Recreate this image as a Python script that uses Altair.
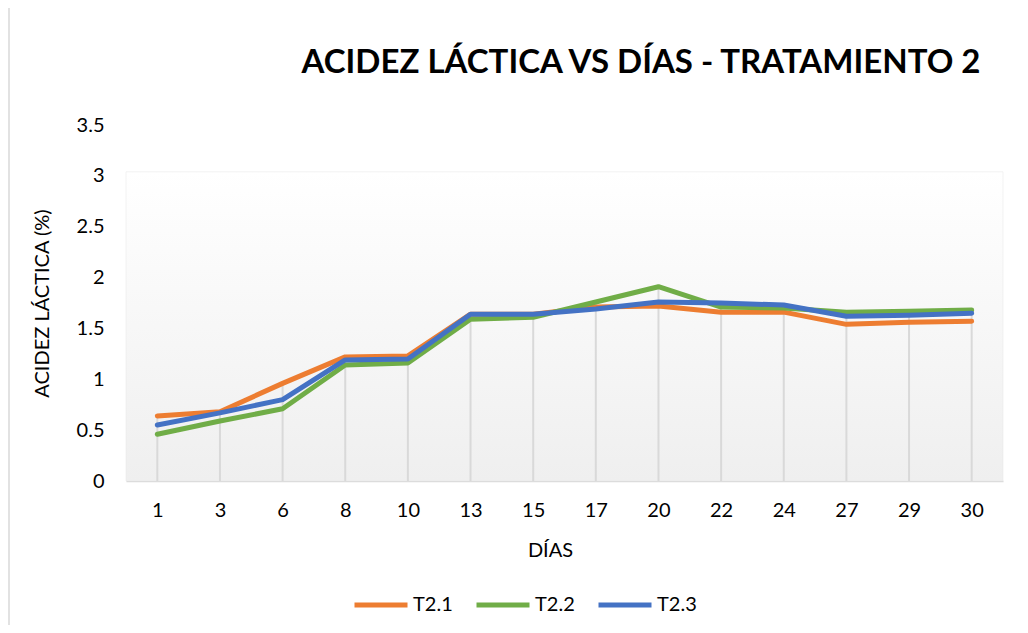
import altair as alt
import pandas as pd

days = ["1", "3", "6", "8", "10", "13", "15", "17", "20", "22", "24", "27", "29", "30"]
t21 = [0.64, 0.68, 0.96, 1.22, 1.23, 1.64, 1.64, 1.71, 1.72, 1.66, 1.66, 1.54, 1.56, 1.57]
t22 = [0.46, 0.59, 0.71, 1.14, 1.16, 1.59, 1.61, 1.76, 1.91, 1.71, 1.70, 1.66, 1.67, 1.68]
t23 = [0.55, 0.67, 0.80, 1.19, 1.20, 1.64, 1.64, 1.69, 1.76, 1.75, 1.73, 1.62, 1.63, 1.65]
series = ["T2.1", "T2.2", "T2.3"]
colors = ["#ED7D31", "#70AD47", "#4472C4"]
y_ticks = [0, 0.5, 1, 1.5, 2, 2.5, 3, 3.5]
title_text = ["ACIDEZ LÁCTICA VS DÍAS - TRATAMIENTO 2"]

rows = []
for name, vals in zip(series, [t21, t22, t23]):
    for d, v in zip(days, vals):
        rows.append({"dia": d, "serie": name, "valor": v, "orden": series.index(name)})
df = pd.DataFrame(rows)

FONT = "Lato"
W, H = 877, 356

xenc = alt.X("dia:N", sort=days, scale=alt.Scale(type="point", padding=0.5),
             axis=alt.Axis(title="DÍAS", labelAngle=0, labelFontSize=20, labelPadding=19,
                           ticks=False, domainColor="#d9d9d9", domainWidth=1.5,
                           titleFontSize=20, titleFontWeight="normal", titlePadding=20,
                           titleX=424, labelColor="#000000", titleColor="#000000"))
yscale = alt.Scale(domain=[0, 3.5], nice=False)

bg = alt.Chart(pd.DataFrame({"top": [3.04], "bottom": [0]})).mark_rect(
    fill=alt.LinearGradient(gradient="linear",
                            stops=[alt.GradientStop(offset=0, color="#ffffff"),
                                   alt.GradientStop(offset=1, color="#efefef")],
                            x1=0, x2=0, y1=0, y2=1),
    stroke="#e6e6e6", strokeWidth=0.5
).encode(
    x=alt.value(0), x2=alt.value(W),
    y=alt.Y("top:Q", scale=yscale, axis=alt.Axis(
        title="ACIDEZ LÁCTICA (%)", values=y_ticks, format="~g", labelFontSize=20,
        labelPadding=22, ticks=False, domain=False, grid=False, titleFontSize=20,
        titleFontWeight="normal", titlePadding=24, labelColor="#000000", titleColor="#000000")),
    y2="bottom:Q",
)

border = alt.Chart(pd.DataFrame({"k": [0]})).mark_rule(color="#d9d9d9", strokeWidth=1.5).encode(
    x=alt.value(-117), y=alt.value(-125), y2=alt.value(H + 160),
)

title = alt.Chart(pd.DataFrame({"t": title_text})).mark_text(
    font=FONT, fontSize=33, fontWeight="bold", color="#000000",
    align="center", baseline="middle"
).encode(x=alt.value(515), y=alt.value(-62), text="t:N")

drops = alt.Chart(df).mark_rule(color="#d9d9d9", strokeWidth=2).encode(
    x=xenc,
    y=alt.Y("max(valor):Q", scale=yscale),
    y2=alt.datum(0),
)

lines = alt.Chart(df).mark_line(strokeWidth=5, strokeCap="round", strokeJoin="round").encode(
    x=xenc,
    y=alt.Y("valor:Q", scale=yscale),
    color=alt.Color("serie:N", sort=series, scale=alt.Scale(domain=series, range=colors),
                    legend=alt.Legend(title=None, orient="none", direction="horizontal",
                                      legendX=226, legendY=451, symbolType="stroke",
                                      symbolSize=2809, symbolStrokeWidth=5,
                                      labelFontSize=20, labelOffset=3, columnPadding=13,
                                      labelColor="#000000")),
    order="orden:Q",
)

chart = alt.layer(bg, border, title, drops, lines).properties(
    width=W, height=H,
    padding={"left": 118, "top": 117, "right": 17, "bottom": 144},
    autosize=alt.AutoSizeParams(type="none"),
).configure(font=FONT).configure_view(stroke=None)

chart.save("out.html", embed_options={"renderer": "svg", "actions": False})
